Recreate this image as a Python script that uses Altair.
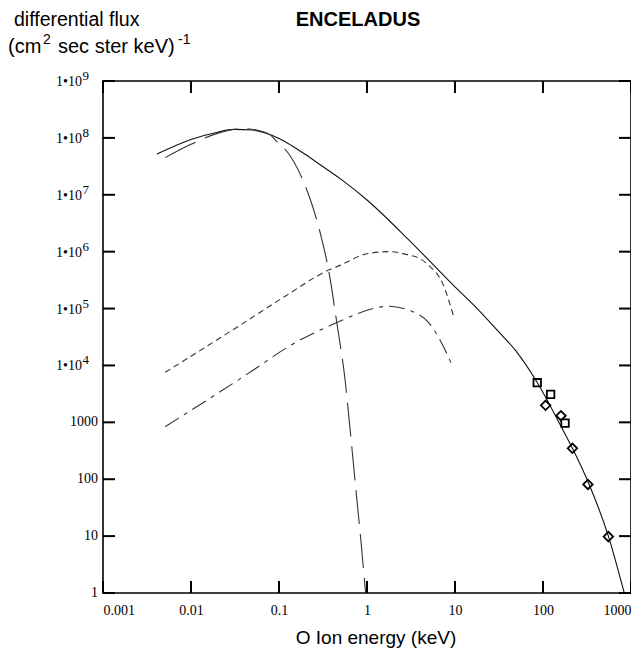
import json
import altair as alt
import pandas as pd

# ---- data ----
solid_x = [0.0041, 0.01, 0.02, 0.031, 0.05, 0.07, 0.1, 0.14, 0.2, 0.3, 0.5, 1.0, 3.0, 10, 17, 30, 50, 86, 160, 216, 330, 553, 838]
solid_y = [5.2e7, 9.4e7, 1.26e8, 1.41e8, 1.38e8, 1.22e8, 9.8e7, 7.3e7, 5.1e7, 3.3e7, 1.9e7, 8.1e6, 1.6e6, 2.4e5, 1.08e5, 4.2e4, 1.75e4, 5000, 850, 349, 85, 10, 1]

longdash_x = [0.0051, 0.01, 0.02, 0.04, 0.06, 0.08, 0.095, 0.124, 0.19, 0.228, 0.308, 0.366, 0.455, 0.564, 0.64, 0.75, 0.85, 0.964]
longdash_y = [4.5e7, 7.7e7, 1.2e8, 1.45e8, 1.33e8, 1.12e8, 8.5e7, 5.7e7, 1.7e7, 8.1e6, 1.6e6, 4.75e5, 5.5e4, 5500, 800, 63, 8.7, 1]

shortdash_x = [0.0051, 0.034, 0.114, 0.366, 0.5, 1.0, 1.8, 3.0, 3.96, 5.0, 7.2, 9.8]
shortdash_y = [7570, 4.8e4, 1.6e5, 4.75e5, 5.8e5, 9.2e5, 1.0e6, 8.7e5, 7.6e5, 5.8e5, 2.8e5, 6.7e4]

dashdot_x = [0.0051, 0.0547, 0.124, 0.435, 1.28, 1.73, 3.96, 5.1, 7.9, 9.4]
dashdot_y = [840, 8900, 2.08e4, 5.5e4, 1.03e5, 1.1e5, 7.7e4, 5.5e4, 1.74e4, 9500]

square_x = [86, 122, 178]
square_y = [4970, 3100, 972]

diamond_x = [107, 160, 216, 324, 553]
diamond_y = [1990, 1306, 349, 81, 9.8]

x_ticks = [0.001, 0.01, 0.1, 1, 10, 100, 1000]
x_labels = ["0.001", "0.01", "0.1", "1", "10", "100", "1000"]

y_ticks = [1, 10, 100, 1000, 1e4, 1e5, 1e6, 1e7, 1e8, 1e9]
y_plain_values = [1, 10, 100, 1000]
y_plain_labels = ["1", "10", "100", "1000"]
y_power_values = [1e4, 1e5, 1e6, 1e7, 1e8, 1e9]
y_power_base = ["1•10", "1•10", "1•10", "1•10", "1•10", "1•10"]
y_power_exp = ["4", "5", "6", "7", "8", "9"]

W, H = 528, 512
TICK = 12

xs = alt.Scale(type="log", domain=[0.001, 1000], nice=False)
ys = alt.Scale(type="log", domain=[1, 1e9], nice=False)

x_axis = alt.Axis(
    values=x_ticks,
    labelExpr=json.dumps(x_labels) + "[round(log(datum.value)/LN10)+3]",
    ticks=False, domain=False, grid=False, title=None,
    labelFont="Liberation Serif", labelFontSize=14, labelColor="black",
    labelPadding=10, labelFlush=True,
)


def X():
    return alt.X("E:Q", scale=xs, axis=x_axis)


def Y():
    return alt.Y("F:Q", scale=ys, axis=None)


def curve(xv, yv, dash, color):
    df = pd.DataFrame({"E": xv, "F": yv})
    kw = dict(color=color, strokeWidth=1.1, interpolate="monotone")
    if dash:
        kw["strokeDash"] = dash
    return alt.Chart(df).mark_line(**kw).encode(x=X(), y=Y())


solid = curve(solid_x, solid_y, None, "#111111")
longdash = curve(longdash_x, longdash_y, [34, 10], "#333333")
shortdash = curve(shortdash_x, shortdash_y, [6, 4], "#333333")
dashdot = curve(dashdot_x, dashdot_y, [16, 6, 4, 6], "#333333")

squares = alt.Chart(pd.DataFrame({"E": square_x, "F": square_y})).mark_point(
    shape="square", filled=False, size=56, strokeWidth=1.8, color="black", opacity=1
).encode(x=X(), y=Y())

diamonds = alt.Chart(pd.DataFrame({"E": diamond_x, "F": diamond_y})).mark_point(
    shape="diamond", filled=False, size=90, strokeWidth=1.8, color="black", opacity=1
).encode(x=X(), y=Y())

# inward-pointing tick marks on all four sides
xt = pd.DataFrame({"E": x_ticks})
yt = pd.DataFrame({"F": y_ticks})
tick_style = dict(color="black", strokeWidth=2)
ticks_bottom = alt.Chart(xt).mark_rule(**tick_style).encode(x=X(), y=alt.value(H), y2=alt.value(H - TICK))
ticks_top = alt.Chart(xt).mark_rule(**tick_style).encode(x=X(), y=alt.value(0), y2=alt.value(TICK))
ticks_left = alt.Chart(yt).mark_rule(**tick_style).encode(y=Y(), x=alt.value(0), x2=alt.value(TICK))
ticks_right = alt.Chart(yt).mark_rule(**tick_style).encode(y=Y(), x=alt.value(W), x2=alt.value(W - TICK))

# y tick labels (with raised exponents)
serif = dict(font="Liberation Serif", color="black", baseline="middle")
ylab_plain = alt.Chart(pd.DataFrame({"F": y_plain_values, "t": y_plain_labels})).mark_text(
    align="right", fontSize=14, **serif
).encode(y=Y(), x=alt.value(-5), text="t:N")
ylab_base = alt.Chart(pd.DataFrame({"F": y_power_values, "t": y_power_base})).mark_text(
    align="right", fontSize=14, dy=1, **serif
).encode(y=Y(), x=alt.value(-21), text="t:N")
ylab_exp = alt.Chart(pd.DataFrame({"F": y_power_values, "t": y_power_exp})).mark_text(
    align="left", fontSize=13, dy=-5, **serif
).encode(y=Y(), x=alt.value(-20.5), text="t:N")


def label(text, x, y, size, bold=False, align="left"):
    return alt.Chart(alt.Data(values=[{}])).mark_text(
        text=text, font="Liberation Sans", fontSize=size,
        fontWeight="bold" if bold else "normal", align=align,
        baseline="middle", color="black",
    ).encode(x=alt.value(x), y=alt.value(y))


# plot origin is at page (103, 81)
t1 = label("differential flux", -89, -61, 19.5)
t2a = label("(cm", -95, -34, 20)
t2b = label("2", -60, -41, 14)
t2c = label("sec ster keV)", -45, -34, 20)
t2d = label("-1", 75, -41, 14)
t3 = label("ENCELADUS", 255, -61, 20, bold=True, align="center")
t4 = label("O Ion energy (keV)", 273, 557, 19, align="center")

chart = alt.layer(
    ticks_bottom, ticks_top, ticks_left, ticks_right,
    solid, longdash, shortdash, dashdot, squares, diamonds,
    ylab_plain, ylab_base, ylab_exp,
    t1, t2a, t2b, t2c, t2d, t3, t4,
).properties(
    width=W, height=H,
    autosize=alt.AutoSizeParams(type="none"),
    padding={"left": 95, "top": 73, "right": 0, "bottom": 55},
).configure_view(stroke="black", strokeWidth=1.6)

chart.save("out.html", embed_options={"renderer": "svg", "actions": False})
